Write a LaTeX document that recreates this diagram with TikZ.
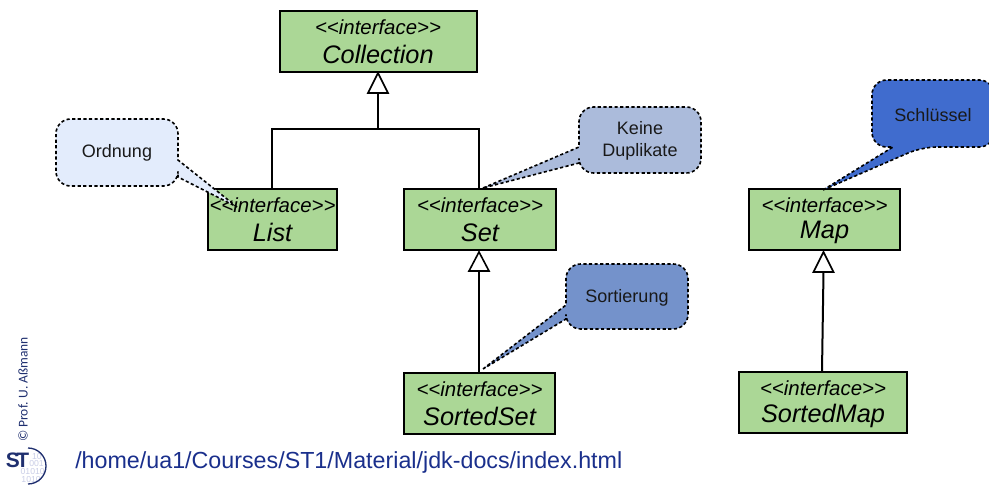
\documentclass[tikz,border=0pt]{standalone}
\usepackage{fontspec}
\setmainfont{Liberation Sans}
\newfontfamily\copyfont{Carlito}
\definecolor{boxgreen}{HTML}{ABD796}
\definecolor{callA}{HTML}{E3ECFC}
\definecolor{callB}{HTML}{ABBBDB}
\definecolor{callC}{HTML}{7492CB}
\definecolor{callD}{HTML}{406CCE}
\definecolor{urlblue}{HTML}{1A2F8C}
\definecolor{logoblue}{HTML}{1F2F6F}
\definecolor{logodigit}{HTML}{C9CDE6}
\tikzset{
  iface/.style={draw=black,line width=1.5pt,fill=boxgreen,inner sep=0pt,anchor=north west,
    align=center,font=\itshape},
  call/.style={draw=black,line width=1.2pt,dash pattern=on 2.4pt off 1.8pt},
  calltext/.style={font=\fontsize{13.5}{17}\selectfont,text=black!90,align=center},
  conn/.style={draw=black,line width=1.5pt},
  tri/.style={draw=black,line width=1.2pt,fill=white,line join=miter},
  digitrow/.style={font=\fontsize{6.5}{7}\selectfont,text=logodigit,inner sep=0pt,anchor=east},
}
\newcommand{\ifacebox}[6]{% name, x1,y1,w,h,title
  \node[iface,minimum width=#4*0.75pt,minimum height=#5*0.75pt] (#1) at (#2,#3) {};
  \node[font=\itshape\fontsize{15.3}{18}\selectfont] (#1s) at ([yshift=-17.5pt*0.75]#1.north) {<{}<interface>{}>};
  \node[font=\itshape\fontsize{19}{22}\selectfont] (#1t) at ([yshift=-44.5pt*0.75]#1.north) {#6};
}
\begin{document}
\begin{tikzpicture}[x=0.75pt,y=-0.75pt]
\useasboundingbox (0,0) rectangle (989,485);
% connectors
\coordinate (j1) at (378,129);
\coordinate (t1) at (378,93);
\coordinate (t2) at (479,271);
\coordinate (t3) at (823.5,272);
% boxes
\node[iface,minimum width=197*0.75pt,minimum height=61*0.75pt] (coll) at (279,10) {};
\node[font=\itshape\fontsize{15.3}{18}\selectfont] (colls) at (378,27) {<{}<interface>{}>};
\node[font=\itshape\fontsize{19}{22}\selectfont] (collt) at (378,54) {Collection};
\ifacebox{list}{207}{188}{129}{61}{List}
\ifacebox{set}{403}{188}{152}{61}{Set}
\ifacebox{sset}{403}{372}{151}{61}{SortedSet}
\ifacebox{map}{748}{188}{151}{61}{Map}
\ifacebox{smap}{738}{371}{168}{61}{SortedMap}
% generalisations
\draw[conn] (list.north -| 272,0) |- (j1) -| (set.north -| 479,0);
\draw[conn] (j1) -- (t1);
\draw[tri] (coll.south -| 378,0) -- (388,93) -- (368,93) -- cycle;
\draw[conn] (sset.north -| 479,0) -- (t2);
\draw[tri] (set.south -| 479,0) ++(0,1) -- (489,271) -- (469,271) -- cycle;
\draw[conn] (smap.north -| 822,0) -- (t3);
\draw[tri] (map.south -| 823.5,0) ++(0,1) -- (833.5,272) -- (813.5,272) -- cycle;
% callouts
\draw[call,fill=callA] (237,207) -- (178,160) [rounded corners=11pt] -- (178,119) -- (56,119) -- (56,186) -- (178,186) [sharp corners] -- (178,177) -- cycle;
\node[calltext] (ordn) at (117,153) {Ordnung};
\draw[call,fill=callB] (483,188) -- (579,147) [rounded corners=11pt] -- (579,107) -- (701,107) -- (701,173) -- (579,173) [sharp corners] -- (579,163) -- cycle;
\node[calltext] (kein) at (640,141) {Keine\\Duplikate};
\draw[call,fill=callC] (483,369) -- (566,305) [rounded corners=11pt] -- (566,264) -- (688,264) -- (688,329) -- (566,329) [sharp corners] -- (566,319) -- cycle;
\node[calltext] (sort) at (627,298) {Sortierung};
\draw[call,fill=callD] (823,190) -- (893,147) [rounded corners=11pt] -- (872,147) -- (872,80) -- (994,80) -- (994,147) -- (922,147) [sharp corners] -- cycle;
\node[calltext] (schl) at (933,115) {Schlüssel};
% footer
\node[font=\fontsize{17.45}{20}\selectfont,text=urlblue,anchor=west,inner sep=0pt] (url) at (75,462) {/home/ua1/Courses/ST1/Material/jdk-docs/index.html};
\node[font=\copyfont\fontsize{10.1}{11}\selectfont,text=logoblue,rotate=90,anchor=west,inner sep=0pt] (copy) at (23,442) {© Prof. U. Aßmann};
% logo
\node[digitrow] (d1) at (42,456.5) {10};
\node[digitrow] (d2) at (44,464) {001};
\node[digitrow] (d3) at (45,472) {01010};
\node[digitrow] (d4) at (41,480) {1010};
\draw[draw=logoblue,line width=1pt] (28,484) arc[start angle=90,end angle=-90,radius=18];
\node[font=\bfseries\fontsize{15.7}{15}\selectfont,text=logoblue,inner sep=0pt] (st) at (17.5,460.5) {S\kern-2.5pt T};
\end{tikzpicture}
\end{document}
